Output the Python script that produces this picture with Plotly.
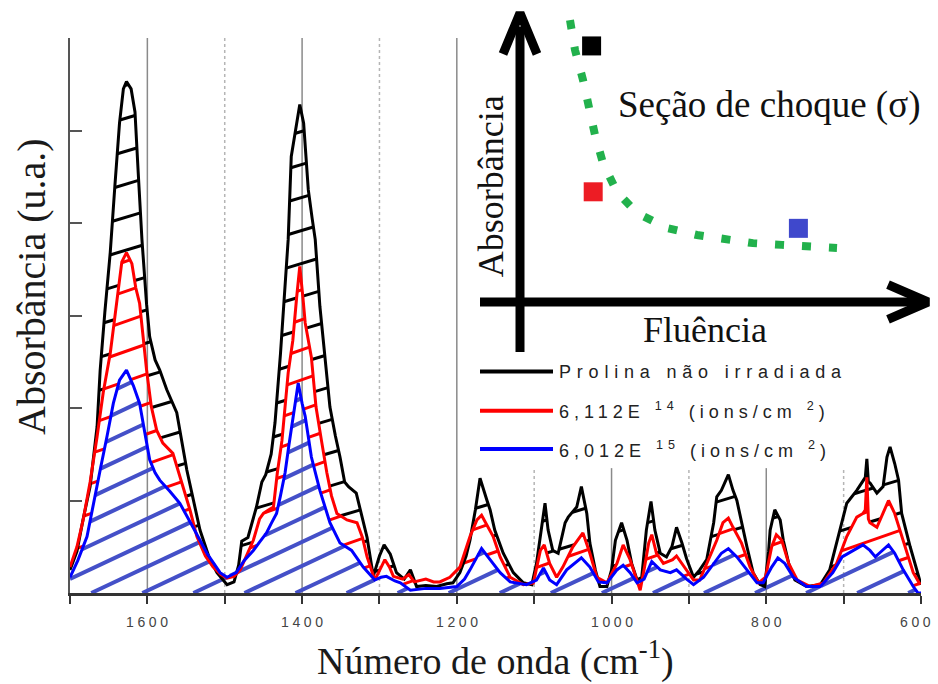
import numpy as np
import plotly.graph_objects as go

# ---------------- data ----------------
wn_black = [1700, 1691, 1683, 1674, 1665, 1661, 1655, 1648, 1642, 1636, 1631, 1627, 1621, 1616, 1612, 1607,
            1601, 1597, 1590, 1584, 1575, 1562, 1549, 1540, 1532, 1520, 1510, 1497, 1488, 1482, 1478, 1470,
            1462, 1459, 1452, 1447, 1440, 1435, 1428, 1424, 1418, 1414, 1408, 1403, 1398, 1392, 1387, 1383,
            1377, 1370, 1364, 1357, 1351, 1345, 1340, 1330, 1323, 1316, 1308, 1300, 1294, 1286, 1278, 1268,
            1260, 1252, 1240, 1226, 1213, 1205, 1196, 1188, 1183, 1176, 1170, 1165, 1161, 1157, 1151, 1140,
            1127, 1114, 1103, 1097, 1090, 1086, 1082, 1076, 1069, 1060, 1056, 1045, 1039, 1032, 1028, 1021,
            1015, 1006, 1000, 995, 987, 980, 974, 967, 961, 955, 949, 944, 937, 929, 922, 916, 909, 903, 894,
            886, 877, 868, 864, 858, 849, 843, 838, 832, 825, 817, 808, 802, 797, 795, 789, 782, 778, 771, 763,
            748, 730, 718, 705, 696, 683, 675, 672, 670, 668, 666, 657, 649, 644, 640, 634, 629, 625, 614, 605,
            600]
ab_black = [0.25, 0.45, 0.80, 1.15, 1.80, 2.41, 3.03, 3.68, 4.40, 5.08, 5.45, 5.53, 5.45, 5.20, 4.57, 3.82,
            3.12, 2.77, 2.52, 2.41, 2.20, 1.95, 1.33, 1.00, 0.68, 0.38, 0.22, 0.09, 0.12, 0.30, 0.56, 0.60,
            0.85, 0.93, 1.20, 1.28, 1.50, 1.84, 2.58, 3.10, 3.82, 4.72, 5.05, 5.28, 5.08, 4.36, 4.05, 3.82,
            3.10, 2.55, 2.01, 1.70, 1.47, 1.20, 1.15, 1.08, 0.85, 0.60, 0.18, 0.40, 0.52, 0.42, 0.22, 0.15,
            0.25, 0.07, 0.08, 0.07, 0.10, 0.11, 0.22, 0.40, 0.57, 0.90, 1.24, 1.12, 1.00, 0.90, 0.68, 0.43,
            0.22, 0.11, 0.09, 0.32, 0.76, 0.97, 0.68, 0.46, 0.43, 0.76, 0.82, 0.93, 1.15, 0.86, 0.54, 0.25,
            0.07, 0.07, 0.25, 0.57, 0.76, 0.57, 0.32, 0.14, 0.17, 0.68, 0.99, 0.68, 0.43, 0.39, 0.50, 0.71,
            0.54, 0.37, 0.17, 0.25, 0.36, 0.76, 1.04, 1.11, 1.28, 1.11, 1.00, 0.76, 0.50, 0.22, 0.09, 0.07,
            0.45, 0.68, 0.90, 0.79, 0.57, 0.32, 0.14, 0.07, 0.09, 0.25, 0.68, 0.97, 1.11, 1.22, 1.25, 1.45,
            1.20, 1.19, 1.08, 1.15, 1.47, 1.58, 1.40, 1.22, 0.86, 0.50, 0.25, 0.09]

wn_red = [1700, 1691, 1683, 1674, 1665, 1657, 1648, 1640, 1633, 1627, 1620, 1615, 1610, 1601, 1595, 1588,
          1580, 1567, 1554, 1545, 1536, 1525, 1515, 1505, 1497, 1488, 1480, 1470, 1463, 1455, 1450, 1443,
          1437, 1432, 1426, 1418, 1412, 1407, 1403, 1399, 1396, 1388, 1382, 1375, 1368, 1362, 1355, 1342,
          1329, 1322, 1316, 1306, 1299, 1293, 1287, 1282, 1270, 1262, 1255, 1240, 1230, 1222, 1209, 1196,
          1183, 1174, 1168, 1159, 1153, 1144, 1131, 1114, 1101, 1092, 1087, 1080, 1071, 1063, 1050, 1037,
          1028, 1019, 1006, 993, 985, 976, 967, 963, 958, 952, 948, 942, 933, 921, 916, 903, 894, 886, 873,
          864, 856, 849, 843, 832, 821, 810, 801, 793, 787, 780, 771, 760, 743, 726, 709, 696, 683, 675,
          672, 670, 668, 666, 657, 649, 642, 634, 627, 618, 610, 601]
ab_red = [0.28, 0.50, 0.79, 1.20, 1.69, 2.17, 2.59, 3.15, 3.58, 3.68, 3.56, 3.30, 3.13, 2.41, 2.02, 1.76,
          1.62, 1.51, 1.15, 0.90, 0.61, 0.40, 0.28, 0.20, 0.16, 0.18, 0.25, 0.45, 0.57, 0.80, 0.86, 0.90,
          0.93, 1.30, 1.65, 2.38, 2.73, 3.20, 3.53, 3.20, 2.92, 2.55, 2.01, 1.65, 1.30, 1.05, 0.86, 0.79,
          0.76, 0.60, 0.39, 0.14, 0.25, 0.36, 0.28, 0.18, 0.15, 0.20, 0.12, 0.15, 0.12, 0.12, 0.17, 0.28,
          0.61, 0.79, 0.84, 0.71, 0.61, 0.39, 0.17, 0.09, 0.11, 0.46, 0.52, 0.32, 0.17, 0.28, 0.50, 0.65,
          0.43, 0.17, 0.11, 0.32, 0.52, 0.36, 0.14, 0.03, 0.25, 0.54, 0.63, 0.43, 0.32, 0.36, 0.40, 0.25,
          0.14, 0.14, 0.39, 0.57, 0.76, 0.81, 0.71, 0.54, 0.28, 0.11, 0.17, 0.50, 0.63, 0.57, 0.32, 0.14,
          0.07, 0.11, 0.32, 0.61, 0.82, 0.86, 0.90, 1.25, 0.80, 0.76, 0.71, 0.86, 1.00, 0.86, 0.68, 0.43,
          0.22, 0.09]

wn_blue = [1700, 1690, 1678, 1670, 1661, 1652, 1644, 1636, 1627, 1618, 1610, 1603, 1597, 1590, 1584, 1571,
           1558, 1541, 1523, 1506, 1497, 1490, 1485, 1475, 1463, 1455, 1446, 1440, 1433, 1428, 1422, 1417,
           1413, 1408, 1405, 1400, 1396, 1388, 1377, 1364, 1351, 1336, 1321, 1306, 1298, 1291, 1280, 1273,
           1260, 1240, 1222, 1200, 1190, 1183, 1174, 1168, 1157, 1144, 1131, 1110, 1097, 1088, 1080, 1071,
           1058, 1039, 1028, 1017, 1006, 993, 985, 976, 967, 958, 948, 937, 924, 916, 903, 894, 881, 868,
           858, 849, 838, 825, 812, 804, 793, 785, 776, 765, 748, 730, 714, 702, 688, 675, 666, 659, 654,
           642, 634, 623, 610, 604, 600]
ab_blue = [0.17, 0.35, 0.61, 0.96, 1.33, 1.70, 2.05, 2.30, 2.41, 2.24, 2.05, 1.72, 1.44, 1.30, 1.22, 1.10,
           0.97, 0.71, 0.43, 0.22, 0.17, 0.20, 0.22, 0.35, 0.46, 0.55, 0.65, 0.75, 0.86, 1.05, 1.30, 1.60,
           1.84, 2.10, 2.27, 2.05, 1.91, 1.47, 1.11, 0.76, 0.54, 0.46, 0.28, 0.14, 0.17, 0.18, 0.13, 0.11,
           0.03, 0.05, 0.05, 0.07, 0.15, 0.25, 0.39, 0.48, 0.36, 0.22, 0.12, 0.09, 0.14, 0.27, 0.14, 0.09,
           0.25, 0.38, 0.28, 0.12, 0.11, 0.25, 0.30, 0.22, 0.11, 0.15, 0.34, 0.25, 0.22, 0.25, 0.15, 0.09,
           0.17, 0.32, 0.43, 0.48, 0.39, 0.25, 0.11, 0.11, 0.28, 0.38, 0.32, 0.17, 0.07, 0.07, 0.22, 0.39,
           0.46, 0.52, 0.46, 0.39, 0.43, 0.52, 0.43, 0.25, 0.07, 0.00, 0.00]

series_names = ["Prolina não irradiada",
                "6,112E <sup>14</sup> (ions/cm <sup>2</sup>)",
                "6,012E <sup>15</sup> (ions/cm <sup>2</sup>)"]
x_tick_vals = [1600, 1400, 1200, 1000, 800, 600]
grid_solid = [1600, 1400, 1200, 1000, 800]
grid_dotted = [1500, 1300, 1100, 900, 700]

# schematic inset (arbitrary units)
curve_fluence = [1.25, 1.375, 1.575, 1.70, 1.875, 2.075, 2.425, 2.925, 3.675, 4.425, 5.175, 5.825, 6.55, 7.25, 7.925]
curve_absorb = [9.72, 8.69, 7.66, 6.72, 5.76, 4.79, 3.79, 3.07, 2.55, 2.31, 2.14, 2.03, 1.97, 1.90, 1.86]
pts_fluence = [1.79, 1.83, 6.96]
pts_absorb = [8.83, 3.80, 2.54]

# ---------------- styling / layout constants ----------------
W, H = 938, 684
X0, X1, Y0, Y1 = 70, 921, 38, 593          # main plot area in px
XR = [1700, 600]
YR = [0, 6]
KX = (X1 - X0) / (XR[0] - XR[1])
KY = (Y1 - Y0) / (YR[1] - YR[0])

BLACK, RED, BLUE = "#000000", "#ff0000", "#0000ff"
HATCH_BLUE = "#4450c8"
SERIF = "Liberation Serif, Times New Roman, serif"
SANS = "Liberation Sans, Arial, sans-serif"


def spaced(t, px):
    return f'<span style="letter-spacing:{px}px">{t}</span>'


def hatch(up_x, up_y, lo_x=None, lo_y=None, slope=0.45, spacing=25.0, offset=0.0, min_len=3):
    g = np.arange(600.0, 1700.0001, 0.25)
    U = np.interp(g, up_x[::-1], up_y[::-1]) * KY
    if lo_x is None:
        L = np.zeros_like(g)
    else:
        L = np.interp(g, lo_x[::-1], lo_y[::-1]) * KY
    X = (XR[0] - g) * KX
    cmin = np.min(L - slope * X)
    cmax = np.max(U - slope * X)
    xs, ys = [], []
    for c in np.arange(cmin + offset, cmax, spacing):
        Yl = slope * X + c
        m = (Yl >= L) & (Yl <= U)
        if not m.any():
            continue
        d = np.diff(np.concatenate([[0], m.astype(int), [0]]))
        starts = np.where(d == 1)[0]
        ends = np.where(d == -1)[0] - 1
        for s, e in zip(starts, ends):
            if e - s < min_len:
                continue
            xs += [g[s], g[e], None]
            ys += [Yl[s] / KY, Yl[e] / KY, None]
    return xs, ys


fig = go.Figure()

# hatching
hb = hatch(np.array(wn_blue, float), np.array(ab_blue, float), slope=0.47, spacing=24, offset=6)
hr = hatch(np.array(wn_red, float), np.array(ab_red, float), np.array(wn_blue, float), np.array(ab_blue, float),
           slope=0.35, spacing=30, offset=10, min_len=8)
hk = hatch(np.array(wn_black, float), np.array(ab_black, float), np.array(wn_red, float), np.array(ab_red, float),
           slope=0.30, spacing=33, offset=12, min_len=8)
fig.add_trace(go.Scatter(x=hb[0], y=hb[1], mode="lines", line=dict(color=HATCH_BLUE, width=4),
                         hoverinfo="skip", showlegend=False))
fig.add_trace(go.Scatter(x=hr[0], y=hr[1], mode="lines", line=dict(color=RED, width=3),
                         hoverinfo="skip", showlegend=False))
fig.add_trace(go.Scatter(x=hk[0], y=hk[1], mode="lines", line=dict(color=BLACK, width=3),
                         hoverinfo="skip", showlegend=False))

# spectra
for wn, ab, col, nm in [(wn_black, ab_black, BLACK, series_names[0]),
                        (wn_red, ab_red, RED, series_names[1]),
                        (wn_blue, ab_blue, BLUE, series_names[2])]:
    fig.add_trace(go.Scatter(x=wn, y=ab, mode="lines", name=nm, line=dict(color=col, width=3),
                             showlegend=False))

# gridlines
shapes = []
cut = 1.35
for g in grid_solid:
    shapes.append(dict(type="line", xref="x", yref="y", x0=g, x1=g, y0=0, y1=YR[1] if g >= 1200 else cut,
                       line=dict(color="#8a8a8a", width=1.5), layer="below"))
for g in grid_dotted:
    shapes.append(dict(type="line", xref="x", yref="y", x0=g, x1=g, y0=0, y1=YR[1] if g >= 1200 else cut,
                       line=dict(color="#b5b5b5", width=1.5, dash="dot"), layer="below"))

# ---------------- inset (schematic) ----------------
IX0, IX1, IY0, IY1 = 470, 935, 0, 470
OX, OY, SX, SY = 520, 302, 40.0, 29.0
ixr = [(IX0 - OX) / SX, (IX1 - OX) / SX]
iyr = [(OY - IY1) / SY, (OY - IY0) / SY]

ax = dict(xaxis="x2", yaxis="y2", hoverinfo="skip", showlegend=False)
fig.add_trace(go.Scatter(x=[0, 0], y=[-1.72, 9.5], mode="lines", line=dict(color=BLACK, width=9), **ax))
fig.add_trace(go.Scatter(x=[-0.425, 0, 0.425], y=[8.55, 9.97, 8.55], mode="lines",
                         line=dict(color=BLACK, width=9), **ax))
fig.add_trace(go.Scatter(x=[-1.0, 10.0], y=[0, 0], mode="lines", line=dict(color=BLACK, width=9), **ax))
fig.add_trace(go.Scatter(x=[9.2, 10.2, 9.2], y=[0.6, 0, -0.6], mode="lines",
                         line=dict(color=BLACK, width=9), **ax))
fig.add_trace(go.Scatter(x=curve_fluence, y=curve_absorb, mode="lines",
                         line=dict(color="#22b14c", width=8, dash="9px,18px"), **ax))
fig.add_trace(go.Scatter(x=pts_fluence, y=pts_absorb, mode="markers",
                         marker=dict(symbol="square", size=19, color=["#000000", "#ed1c24", "#3f48cc"],
                                     line=dict(width=0)), **ax))

# legend (manual)
leg_y = [-2.40, -3.75, -5.07]
for yy, col in zip(leg_y, [BLACK, RED, BLUE]):
    fig.add_trace(go.Scatter(x=[-1.0, 0.825], y=[yy, yy], mode="lines", line=dict(color=col, width=4), **ax))

annotations = [
    dict(text="Absorbância (u.a.)", xref="paper", yref="paper", x=32 / W, y=1 - 287 / H, textangle=-90,
         showarrow=False, font=dict(family=SERIF, size=40, color="#1a1a1a"), xanchor="center", yanchor="middle"),
    dict(text="Número de onda (cm<sup>-1</sup>)", xref="paper", yref="paper", x=495 / W, y=1 - 658 / H,
         showarrow=False, font=dict(family=SERIF, size=38, color="#1a1a1a"), xanchor="center", yanchor="middle"),
    dict(text="Absorbância", xref="x2", yref="y2", x=-0.72, y=4.0, textangle=-90, showarrow=False,
         font=dict(family=SERIF, size=36, color="#111"), xanchor="center", yanchor="middle"),
    dict(text="Fluência", xref="x2", yref="y2", x=4.625, y=-0.95, showarrow=False,
         font=dict(family=SERIF, size=36, color="#111"), xanchor="center", yanchor="middle"),
    dict(text="Seção de choque (σ)", xref="x2", yref="y2", x=6.225, y=6.79, showarrow=False,
         font=dict(family=SERIF, size=37, color="#111"), xanchor="center", yanchor="middle"),
]
for yy, nm, ls in zip(leg_y, series_names, [5.8, 5, 5]):
    annotations.append(dict(text=spaced(nm, ls), xref="x2", yref="y2", x=0.93, y=yy, showarrow=False,
                            xanchor="left", yanchor="middle",
                            font=dict(family=SANS, size=18, color="#222")))
# x tick labels (letter-spaced) placed on the data axis
for v in x_tick_vals:
    last = v == x_tick_vals[-1]
    annotations.append(dict(text=spaced(str(v), 3.6), xref="x", yref="paper", x=v, y=1 - 622 / H,
                            showarrow=False, xanchor="right" if last else "center", yanchor="middle",
                            xshift=15 if last else 2, font=dict(family=SANS, size=14, color="#444")))

fig.update_layout(
    width=W, height=H, margin=dict(l=0, r=0, t=0, b=0),
    paper_bgcolor="white", plot_bgcolor="rgba(0,0,0,0)",
    showlegend=False,
    xaxis=dict(domain=[X0 / W, X1 / W], range=XR, showgrid=False, zeroline=False,
               showline=True, linecolor="#333", linewidth=3,
               tickmode="linear", tick0=600, dtick=100,
               ticks="outside", ticklen=8, tickwidth=2, tickcolor="#333", showticklabels=False),
    yaxis=dict(domain=[1 - Y1 / H, 1 - Y0 / H], range=YR, showgrid=False, zeroline=False,
               showline=True, linecolor="#555", linewidth=2,
               tickmode="linear", tick0=0, dtick=1, ticks="inside", ticklen=12, tickwidth=2, tickcolor="#555",
               showticklabels=False),
    xaxis2=dict(domain=[IX0 / W, IX1 / W], range=ixr, visible=False, anchor="y2"),
    yaxis2=dict(domain=[1 - IY1 / H, 1 - IY0 / H], range=iyr, visible=False, anchor="x2"),
    shapes=shapes, annotations=annotations,
)

fig.write_html("out.html", config={"displayModeBar": False},
               post_script="document.body.style.margin='0px';document.body.style.overflow='hidden';")
